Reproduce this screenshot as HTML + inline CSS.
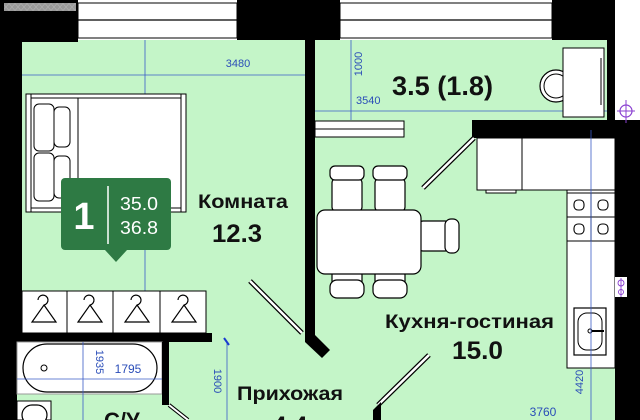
<!DOCTYPE html>
<html><head><meta charset="utf-8"><style>
html,body{margin:0;padding:0;background:#fff;}
svg{display:block;}
text{font-family:"Liberation Sans","DejaVu Sans",sans-serif;}
</style></head><body>
<svg width="640" height="420" viewBox="0 0 640 420" xmlns="http://www.w3.org/2000/svg">
<defs>
<pattern id="hx" width="6" height="7" patternUnits="userSpaceOnUse">
<path d="M0 0L6 7M6 0L0 7" stroke="#333" stroke-width="0.8"/>
</pattern>
</defs>
<rect width="640" height="420" fill="#fff"/>
<rect x="22" y="40" width="283" height="300" fill="#c4f5c8"/>
<rect x="17" y="340" width="300" height="80" fill="#c4f5c8"/>
<rect x="315" y="40" width="292" height="80" fill="#c4f5c8"/>
<rect x="315" y="120" width="300" height="300" fill="#c4f5c8"/>
<rect x="0" y="0" width="78" height="42" fill="#000"/>
<rect x="4" y="3" width="72" height="8" fill="url(#hx)" stroke="#000" stroke-width="0.5"/>
<rect x="4" y="3" width="72" height="8" fill="#fff" opacity="0.6"/>
<rect x="0" y="40" width="22" height="300" fill="#000"/>
<rect x="0" y="330" width="17" height="90" fill="#000"/>
<rect x="78" y="3" width="159" height="35" fill="#fff" stroke="#000" stroke-width="1"/>
<line x1="78" y1="20" x2="237" y2="20" stroke="#000" stroke-width="1.2"/>
<rect x="237" y="0" width="103" height="40" fill="#000"/>
<rect x="305" y="40" width="10" height="295" fill="#000"/>
<rect x="340" y="3" width="212" height="35" fill="#fff" stroke="#000" stroke-width="1"/>
<line x1="340" y1="20" x2="552" y2="20" stroke="#000" stroke-width="1.2"/>
<rect x="552" y="0" width="63" height="40" fill="#000"/>
<rect x="607" y="40" width="8" height="85" fill="#000"/>
<rect x="472" y="120" width="168" height="18" fill="#000"/>
<rect x="615" y="120" width="25" height="300" fill="#000"/>
<rect x="315" y="121" width="89" height="16" fill="#fff" stroke="#000"/>
<line x1="315" y1="129" x2="404" y2="129" stroke="#000"/>
<line x1="351" y1="40" x2="351" y2="120" stroke="#3a5bc7" stroke-width="0.8"/>
<line x1="315" y1="111" x2="607" y2="111" stroke="#3a5bc7" stroke-width="0.8"/>
<text x="362" y="64" font-size="11" fill="#2a4db8" transform="rotate(-90 362 64)" text-anchor="middle">1000</text>
<text x="356" y="104" font-size="11" fill="#2a4db8">3540</text>
<text x="392" y="95" font-size="27" font-weight="bold" fill="#111" textLength="101" lengthAdjust="spacingAndGlyphs">3.5 (1.8)</text>
<rect x="563" y="48" width="41" height="69" fill="#fff" stroke="#000"/>
<line x1="601" y1="58" x2="601" y2="105" stroke="#000"/>
<circle cx="556" cy="86" r="16" fill="#fff" stroke="#000" stroke-width="1.2"/>
<circle cx="556" cy="86" r="12" fill="none" stroke="#000"/>
<rect x="563" y="66" width="10" height="40" fill="#fff"/>
<line x1="563" y1="48" x2="563" y2="117" stroke="#000"/>
<circle cx="626" cy="111" r="6" fill="none" stroke="#8a3fd1" stroke-width="1.2"/>
<line x1="626" y1="100" x2="626" y2="123" stroke="#8a3fd1"/>
<line x1="617" y1="111" x2="635" y2="111" stroke="#8a3fd1"/>
<line x1="145" y1="40" x2="145" y2="335" stroke="#3a5bc7" stroke-width="0.8"/>
<line x1="22" y1="75" x2="305" y2="75" stroke="#3a5bc7" stroke-width="0.8"/>
<text x="238" y="67" font-size="11" fill="#2a4db8" text-anchor="middle">3480</text>
<text x="134" y="130" font-size="11" fill="#2a4db8" transform="rotate(-90 134 130)" text-anchor="middle">3620</text>
<rect x="26" y="94" width="160" height="118" fill="#fff" stroke="#000"/>
<rect x="26" y="94" width="5" height="118" fill="#fff" stroke="#000"/>
<rect x="181" y="94" width="5" height="118" fill="#fff" stroke="#000"/>
<line x1="31" y1="98" x2="181" y2="98" stroke="#000"/>
<line x1="31" y1="208" x2="181" y2="208" stroke="#000"/>
<line x1="78" y1="98" x2="78" y2="208" stroke="#000"/>
<rect x="34" y="104" width="20" height="47" rx="5" fill="#fff" stroke="#000"/>
<rect x="54" y="107" width="16" height="40" rx="5" fill="#fff" stroke="#000"/>
<rect x="34" y="153" width="20" height="48" rx="5" fill="#fff" stroke="#000"/>
<rect x="54" y="156" width="16" height="42" rx="5" fill="#fff" stroke="#000"/>
<rect x="61" y="178" width="110" height="72" rx="4" fill="#2e7a44"/>
<path d="M105 250L116 262L127 250Z" fill="#2e7a44"/>
<line x1="108" y1="186" x2="108" y2="244" stroke="#fff" stroke-width="1.5"/>
<text x="84" y="229" font-size="38" font-weight="bold" fill="#fff" text-anchor="middle">1</text>
<text x="120" y="210" font-size="18" fill="#fff" textLength="38" lengthAdjust="spacingAndGlyphs">35.0</text>
<text x="120" y="234" font-size="18" fill="#fff" textLength="38" lengthAdjust="spacingAndGlyphs">36.8</text>
<text x="198" y="208" font-size="19" font-weight="bold" fill="#111" textLength="90" lengthAdjust="spacingAndGlyphs">Комната</text>
<text x="212" y="242" font-size="25" font-weight="bold" fill="#111" textLength="50" lengthAdjust="spacingAndGlyphs">12.3</text>
<rect x="22" y="291" width="184" height="42" fill="#fff" stroke="#000"/>
<line x1="67" y1="291" x2="67" y2="333" stroke="#000"/>
<line x1="113" y1="291" x2="113" y2="333" stroke="#000"/>
<line x1="160" y1="291" x2="160" y2="333" stroke="#000"/>
<g fill="none" stroke="#000" stroke-width="1.2">
<path d="M38 300a5 5 0 1 1 6 5L32 322h24L44 305"/>
<path d="M84 300a5 5 0 1 1 6 5L78 322h24L90 305"/>
<path d="M131 300a5 5 0 1 1 6 5L125 322h24L137 305"/>
<path d="M178 300a5 5 0 1 1 6 5L172 322h24L184 305"/>
</g>
<rect x="17" y="333" width="195" height="9" fill="#000"/>
<rect x="17" y="342" width="145" height="52" fill="#fff" stroke="#999"/>
<rect x="23" y="344" width="134" height="48" rx="24" fill="#fff" stroke="#000" stroke-width="1.2"/>
<circle cx="44" cy="368" r="3" fill="none" stroke="#000"/>
<rect x="162" y="342" width="7" height="63" fill="#000"/>
<line x1="17" y1="379" x2="162" y2="379" stroke="#3a5bc7" stroke-width="0.8"/>
<line x1="83" y1="342" x2="83" y2="420" stroke="#3a5bc7" stroke-width="0.8"/>
<text x="96" y="362" font-size="11" fill="#2a4db8" transform="rotate(90 96 362)" text-anchor="middle">1935</text>
<text x="128" y="373" font-size="12" fill="#2a4db8" text-anchor="middle">1795</text>
<rect x="17" y="401" width="34" height="19" fill="#fff" stroke="#000"/>
<rect x="22" y="405" width="25" height="20" rx="10" fill="#fff" stroke="#000" stroke-width="1.2"/>
<text x="104" y="428" font-size="22" font-weight="bold" fill="#111">С/У</text>
<line x1="169" y1="405" x2="188" y2="420" stroke="#000" stroke-width="4"/>
<line x1="169" y1="405" x2="188" y2="420" stroke="#fff" stroke-width="2"/>
<line x1="227" y1="343" x2="227" y2="420" stroke="#3a5bc7" stroke-width="0.8"/>
<line x1="224" y1="338" x2="229" y2="345" stroke="#1a3bd0" stroke-width="2"/>
<text x="214" y="381" font-size="11" fill="#2a4db8" transform="rotate(90 214 381)" text-anchor="middle">1900</text>
<text x="237" y="400" font-size="19" font-weight="bold" fill="#111" textLength="106" lengthAdjust="spacingAndGlyphs">Прихожая</text>
<text x="290" y="434" font-size="25" font-weight="bold" fill="#111" text-anchor="middle">4.4</text>
<line x1="250" y1="281" x2="302" y2="333" stroke="#000" stroke-width="5"/>
<line x1="250" y1="281" x2="302" y2="333" stroke="#fff" stroke-width="2.5"/>
<path d="M305 328L315 335L330 350L322 358L305 342Z" fill="#000"/>
<line x1="423" y1="188" x2="474" y2="138" stroke="#000" stroke-width="5"/>
<line x1="423" y1="188" x2="474" y2="138" stroke="#fff" stroke-width="2.5"/>
<line x1="378" y1="405" x2="429" y2="355" stroke="#000" stroke-width="5"/>
<line x1="378" y1="405" x2="429" y2="355" stroke="#fff" stroke-width="2.5"/>
<path d="M373 410L381 402L381 420L373 420Z" fill="#000"/>
<rect x="477" y="138" width="138" height="52" fill="#fff" stroke="#000"/>
<rect x="477" y="138" width="45" height="52" fill="#fff" stroke="#000"/>
<rect x="486" y="190" width="30" height="3" fill="#fff" stroke="#000"/>
<rect x="567" y="190" width="48" height="178" fill="#fff" stroke="#000"/>
<g stroke="#000" fill="#fff">
<rect x="567" y="193" width="24" height="24"/><rect x="591" y="193" width="24" height="24"/>
<rect x="567" y="217" width="24" height="24"/><rect x="591" y="217" width="24" height="24"/>
</g>
<g stroke="#000" fill="none" stroke-width="1.1">
<rect x="574" y="200" width="10" height="10" rx="4"/><rect x="598" y="200" width="10" height="10" rx="4"/>
<rect x="574" y="224" width="10" height="10" rx="4"/><rect x="598" y="224" width="10" height="10" rx="4"/>
</g>
<rect x="574" y="308" width="32" height="47" fill="#fff" stroke="#000" stroke-width="1.2"/>
<rect x="578" y="313" width="24" height="37" rx="9" fill="none" stroke="#000"/>
<circle cx="590" cy="331" r="2" fill="none" stroke="#000"/>
<line x1="592" y1="331" x2="604" y2="331" stroke="#000" stroke-width="2"/>
<line x1="591" y1="130" x2="591" y2="420" stroke="#3a5bc7" stroke-width="0.8"/>
<text x="583" y="382" font-size="11" fill="#2a4db8" transform="rotate(-90 583 382)" text-anchor="middle">4420</text>
<text x="543" y="416" font-size="12" fill="#2a4db8" text-anchor="middle">3760</text>
<g stroke="#8a3fd1" fill="none" stroke-width="0.9">
<rect x="615" y="277" width="12" height="20" fill="#fff" stroke="none"/>
<circle cx="621" cy="283" r="3"/><circle cx="621" cy="292" r="2.5"/>
<line x1="621" y1="278" x2="621" y2="297"/>
</g>
<g fill="#fff" stroke="#000" stroke-width="1.2">
<rect x="332" y="178" width="30" height="34" rx="5"/>
<rect x="330" y="166" width="34" height="14" rx="5"/>
<rect x="375" y="178" width="30" height="34" rx="5"/>
<rect x="373" y="166" width="34" height="14" rx="5"/>
<rect x="332" y="270" width="30" height="20" rx="5"/>
<rect x="330" y="280" width="34" height="18" rx="7"/>
<rect x="375" y="270" width="30" height="20" rx="5"/>
<rect x="373" y="280" width="34" height="18" rx="7"/>
<rect x="418" y="221" width="32" height="30" rx="5"/>
<rect x="445" y="219" width="14" height="34" rx="6"/>
<rect x="317" y="210" width="104" height="64" rx="8"/>
</g>
<text x="385" y="328" font-size="19" font-weight="bold" fill="#111" textLength="169" lengthAdjust="spacingAndGlyphs">Кухня-гостиная</text>
<text x="452" y="359" font-size="25" font-weight="bold" fill="#111" textLength="51" lengthAdjust="spacingAndGlyphs">15.0</text>
</svg>
</body></html>
